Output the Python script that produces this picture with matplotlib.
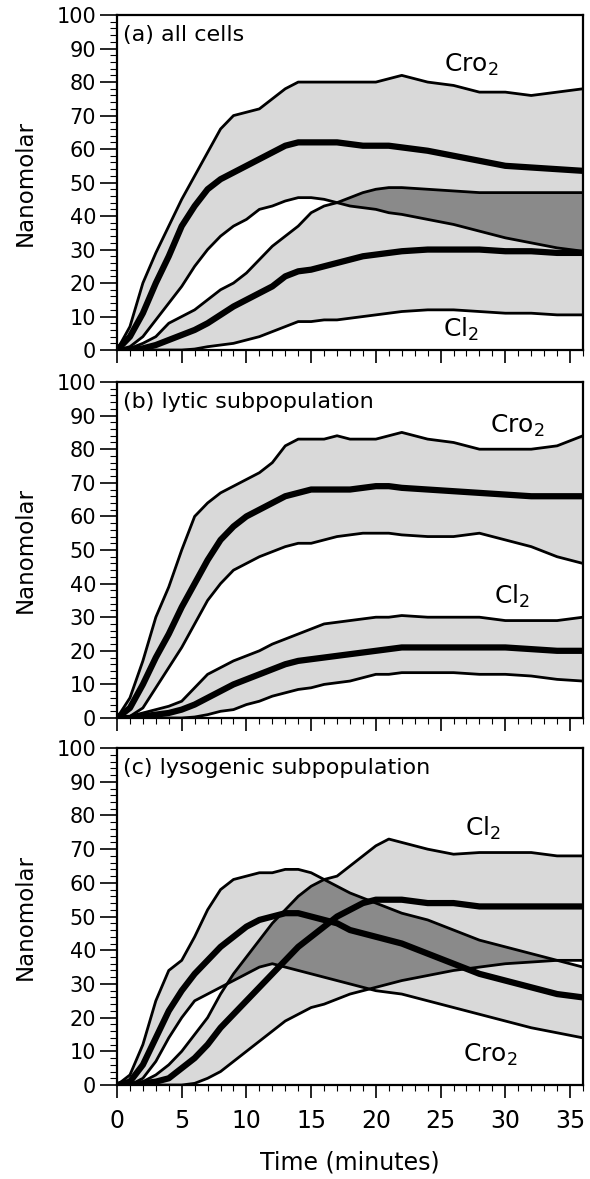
import matplotlib
matplotlib.use("Agg")
import matplotlib.pyplot as plt
from matplotlib.ticker import MultipleLocator
import numpy as np

plt.rcParams["font.family"] = ["DejaVu Sans"]
plt.rcParams["mathtext.default"] = "regular"

# tempo (minutos)
t = [0, 1, 2, 3, 4, 5, 6, 7, 8, 9, 10, 11, 12, 13, 14, 15, 16, 17, 18, 19,
     20, 21, 22, 24, 26, 28, 30, 32, 34, 36]

# (a) all cells
a_cro_up = [0, 7, 20, 29, 37, 45, 52, 59, 66, 70, 71, 72, 75, 78, 80, 80, 80, 80, 80, 80,
            80, 81, 82, 80, 79, 77, 77, 76, 77, 78]
a_cro_mean = [0, 4, 11, 20, 28, 37, 43, 48, 51, 53, 55, 57, 59, 61, 62, 62, 62, 62, 61.5, 61,
              61, 61, 60.5, 59.5, 58, 56.5, 55, 54.5, 54, 53.5]
a_cro_lo = [0, 1, 4, 9, 14, 19, 25, 30, 34, 37, 39, 42, 43, 44.5, 45.5, 45.5, 45, 44, 43, 42.5,
            42, 41, 40.5, 39, 37.5, 35.5, 33.5, 32, 30.5, 29.5]
a_cl_up = [0, 0.5, 2, 4, 8, 10, 12, 15, 18, 20, 23, 27, 31, 34, 37, 41, 43, 44, 45.5, 47,
           48, 48.5, 48.5, 48, 47.5, 47, 47, 47, 47, 47]
a_cl_mean = [0, 0, 0.5, 1.5, 3, 4.5, 6, 8, 10.5, 13, 15, 17, 19, 22, 23.5, 24, 25, 26, 27, 28,
             28.5, 29, 29.5, 30, 30, 30, 29.5, 29.5, 29, 29]
a_cl_lo = [0, 0, 0, 0, 0, 0, 0.3, 1, 1.5, 2, 3, 4, 5.5, 7, 8.5, 8.5, 9, 9, 9.5, 10,
           10.5, 11, 11.5, 12, 12, 11.5, 11, 11, 10.5, 10.5]

# (b) lytic subpopulation
b_cro_up = [0, 6, 17, 30, 39, 50, 60, 64, 67, 69, 71, 73, 76, 81, 83, 83, 83, 84, 83, 83,
            83, 84, 85, 83, 82, 80, 80, 80, 81, 84]
b_cro_mean = [0, 3, 10, 18, 25, 33, 40, 47, 53, 57, 60, 62, 64, 66, 67, 68, 68, 68, 68, 68.5,
              69, 69, 68.5, 68, 67.5, 67, 66.5, 66, 66, 66]
b_cro_lo = [0, 0.5, 3, 9, 15, 21, 28, 35, 40, 44, 46, 48, 49.5, 51, 52, 52, 53, 54, 54.5, 55,
            55, 55, 54.5, 54, 54, 55, 53, 51, 48, 46]
b_cl_up = [0, 0.5, 1.5, 2.5, 3.5, 5, 9, 13, 15, 17, 18.5, 20, 22, 23.5, 25, 26.5, 28, 28.5, 29, 29.5,
           30, 30, 30.5, 30, 30, 30, 29, 29, 29, 30]
b_cl_mean = [0, 0, 0.5, 1, 1.5, 2.5, 4, 6, 8, 10, 11.5, 13, 14.5, 16, 17, 17.5, 18, 18.5, 19, 19.5,
             20, 20.5, 21, 21, 21, 21, 21, 20.5, 20, 20]
b_cl_lo = [0, 0, 0, 0, 0, 0, 0.3, 1, 2, 2.5, 4, 5, 6.5, 7.5, 8.5, 9, 10, 10.5, 11, 12,
           13, 13, 13.5, 13.5, 13.5, 13, 13, 12.5, 11.5, 11]

# (c) lysogenic subpopulation
c_cro_up = [0, 3, 12, 25, 34, 37, 44, 52, 58, 61, 62, 63, 63, 64, 64, 63, 61, 59, 57, 55.5,
            54, 52.5, 51, 49, 46, 43, 41, 39, 37, 35]
c_cro_mean = [0, 1, 6, 14, 22, 28, 33, 37, 41, 44, 47, 49, 50, 51, 51, 50, 49, 48, 46, 45,
              44, 43, 42, 39, 36, 33, 31, 29, 27, 26]
c_cro_lo = [0, 0, 2, 7, 14, 20, 25, 27, 29, 31, 33, 35, 36, 35, 34, 33, 32, 31, 30, 29,
            28, 27.5, 27, 25, 23, 21, 19, 17, 15.5, 14]
c_cl_up = [0, 0, 1, 3, 6, 10, 15, 20, 27, 33, 38, 43, 48, 52, 56, 59, 61, 62, 65, 68,
           71, 73, 72, 70, 68.5, 69, 69, 69, 68, 68]
c_cl_mean = [0, 0, 0.5, 1, 2, 5, 8, 12, 17, 21, 25, 29, 33, 37, 41, 44, 47, 50, 52, 54,
             55, 55, 55, 54, 54, 53, 53, 53, 53, 53]
c_cl_lo = [0, 0, 0, 0, 0, 0, 0.5, 2, 4, 7, 10, 13, 16, 19, 21, 23, 24, 25.5, 27, 28,
           29, 30, 31, 32.5, 34, 35, 36, 36.5, 37, 37]

panels = [
    ("(a) all cells", (a_cro_up, a_cro_mean, a_cro_lo), (a_cl_up, a_cl_mean, a_cl_lo),
     (25.3, 83), (25.2, 4)),
    ("(b) lytic subpopulation", (b_cro_up, b_cro_mean, b_cro_lo), (b_cl_up, b_cl_mean, b_cl_lo),
     (28.8, 85), (29.1, 34)),
    ("(c) lysogenic subpopulation", (c_cro_up, c_cro_mean, c_cro_lo), (c_cl_up, c_cl_mean, c_cl_lo),
     (26.7, 7), (26.9, 74)),
]

LIGHT = "#d9d9d9"
DARK = "#8a8a8a"

fig = plt.figure(figsize=(5.90, 11.79), dpi=100)
boxes = [[0.1983, 0.7031, 0.7898, 0.2841],
         [0.1983, 0.3910, 0.7898, 0.2850],
         [0.1983, 0.0797, 0.7898, 0.2858]]

for i, (title, cro, cl, cro_pos, cl_pos) in enumerate(panels):
    ax = fig.add_axes(boxes[i])
    x = np.array(t)
    cro_up, cro_mean, cro_lo = [np.array(v) for v in cro]
    cl_up, cl_mean, cl_lo = [np.array(v) for v in cl]

    # faixas claras
    ax.fill_between(x, cro_lo, cro_up, color=LIGHT, lw=0)
    ax.fill_between(x, cl_lo, cl_up, color=LIGHT, lw=0)
    # sobreposicao escura
    top = np.minimum(cro_up, cl_up)
    bot = np.maximum(cro_lo, cl_lo)
    ax.fill_between(x, bot, top, where=top > bot, interpolate=True, color=DARK, lw=0)

    for arr in (cro_up, cro_lo, cl_up, cl_lo):
        ax.plot(x, arr, color="black", lw=2.0)
    for arr in (cro_mean, cl_mean):
        ax.plot(x, arr, color="black", lw=4.5)

    ax.text(0.5, 97, title, fontsize=16, va="top", ha="left")
    ax.text(cro_pos[0], cro_pos[1], "Cro$_2$", fontsize=18, va="baseline")
    ax.text(cl_pos[0], cl_pos[1], "Cl$_2$", fontsize=18, va="baseline")

    ax.set_xlim(0, 36)
    ax.set_ylim(0, 100)
    ax.yaxis.set_major_locator(MultipleLocator(10))
    ax.yaxis.set_minor_locator(MultipleLocator(2))
    ax.xaxis.set_major_locator(MultipleLocator(5))
    ax.xaxis.set_minor_locator(MultipleLocator(1))
    ax.tick_params(axis="y", which="major", direction="out", length=12, width=1.2, labelsize=15, pad=3)
    ax.tick_params(axis="y", which="minor", direction="out", length=5, width=0.8)
    ax.tick_params(axis="x", which="major", direction="out", length=9, width=1.2, labelsize=17, pad=8)
    ax.tick_params(axis="x", which="minor", direction="out", length=4, width=0.8)
    for s in ax.spines.values():
        s.set_linewidth(1.6)
    ax.set_ylabel("Nanomolar", fontsize=16.5, labelpad=14)
    if i < 2:
        ax.tick_params(axis="x", labelbottom=False)
    else:
        ax.set_xlabel("Time (minutes)", fontsize=17, labelpad=13)

fig.savefig("out.png", dpi=100)
plt.close(fig)
